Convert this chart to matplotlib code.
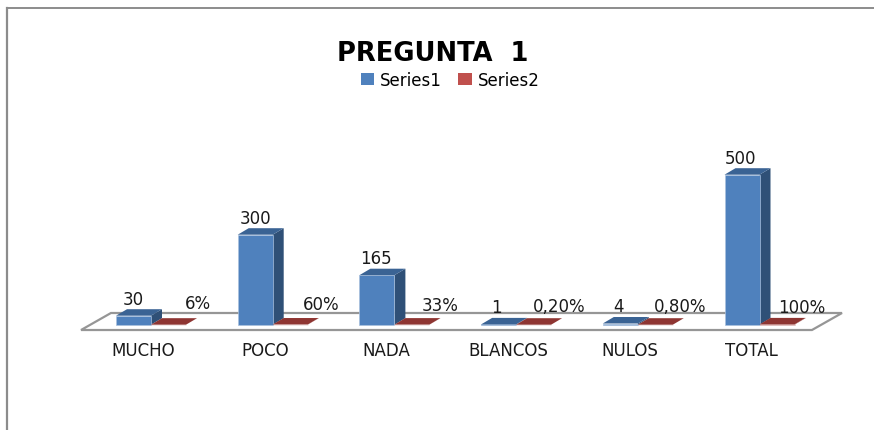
import matplotlib
matplotlib.use("Agg")
import matplotlib.pyplot as plt
from matplotlib.patches import Polygon

plt.rcParams["font.family"] = ["DejaVu Sans"]

categories = ["MUCHO", "POCO", "NADA", "BLANCOS", "NULOS", "TOTAL"]
series1 = [30, 300, 165, 1, 4, 500]
series2 = [0.06, 0.60, 0.33, 0.002, 0.008, 1.0]
series1_labels = ["30", "300", "165", "1", "4", "500"]
series2_labels = ["6%", "60%", "33%", "0,20%", "0,80%", "100%"]

# hand moved labels in the original, offsets in pixels
s1_dx = [0, 0, -1, -2, -2, -1]
s2_dx = [12, 14, 11, 9, 8, 8]
s2_dy = [22, 21, 20, 19, 19, 18]

BLUE, BLUE_SIDE, BLUE_TOP = "#4F81BD", "#2F5077", "#3A6394"
RED, RED_TOP = "#C0504D", "#8E3532"
GREY = "#969696"

fig = plt.figure(figsize=(8.74, 4.31), dpi=100)
ax = fig.add_axes([0, 0, 1, 1])

# 121.7 px per category, 0.3 px per unit, zero sits at y=325.7 px
ax.set_xlim(-151 / 121.7, 723 / 121.7)
ax.set_ylim(-105.3 / 0.3, 325.7 / 0.3)
ax.axis("off")

bar_w = 35 / 121.7
depth_x = 11 / 121.7
depth_y = 6.5 / 0.3

# floor
floor = Polygon([(-0.575, -17.7), (5.431, -17.7), (5.678, 39), (-0.329, 39)],
                closed=True, facecolor="white", edgecolor=GREY, linewidth=1.6, zorder=1)
ax.add_patch(floor)

xs = list(range(len(categories)))
x1 = [x - bar_w for x in xs]
bars1 = ax.bar(x1, series1, width=bar_w, align="edge", color=BLUE,
               edgecolor="#A9C1DE", linewidth=0.5, zorder=3, label="Series1")
bars2 = ax.bar(xs, series2, width=bar_w, align="edge", color=RED,
               edgecolor="#E6D5D5", linewidth=0.4, zorder=3, label="Series2")


def box_3d(x, v, top_col, side_col):
    top = [(x, v), (x + bar_w, v), (x + bar_w + depth_x, v + depth_y), (x + depth_x, v + depth_y)]
    side = [(x + bar_w, 0), (x + bar_w + depth_x, depth_y),
            (x + bar_w + depth_x, v + depth_y), (x + bar_w, v)]
    ax.add_patch(Polygon(side, closed=True, facecolor=side_col, edgecolor="none", zorder=2.5))
    ax.add_patch(Polygon(top, closed=True, facecolor=top_col, edgecolor="none", zorder=3.5))


for x, v in zip(x1, series1):
    box_3d(x, v, BLUE_TOP, BLUE_SIDE)
for x, v in zip(xs, series2):
    box_3d(x, v, RED_TOP, RED_TOP)

fs = 12
for i, x in enumerate(xs):
    ax.annotate(series1_labels[i], (x1[i] + bar_w / 2, series1[i]), xytext=(s1_dx[i], 17),
                textcoords="offset pixels", ha="center", va="center",
                fontsize=fs, color="#1a1a1a", zorder=5)
    ax.annotate(series2_labels[i], (x + bar_w / 2, 0), xytext=(17 + s2_dx[i], s2_dy[i]),
                textcoords="offset pixels", ha="center", va="center",
                fontsize=fs, color="#1a1a1a", zorder=5)
    # category labels sit a bit left of the group centre
    ax.annotate(categories[i], (x, 0), xytext=(-8, -25.5), textcoords="offset pixels",
                ha="center", va="center", fontsize=fs, color="#1a1a1a")

fig.text(432.5 / 874, 1 - 54 / 431, "PREGUNTA  1", ha="center", va="center",
         fontsize=18.5, fontweight="bold", color="black")

leg = ax.legend(handles=[bars1, bars2], loc="center", ncol=2, frameon=False,
                bbox_to_anchor=(450 / 874, 1 - 81 / 431), fontsize=12,
                handlelength=0.8, handleheight=0.7, handletextpad=0.35,
                columnspacing=1.0, borderpad=0)
for h, c in zip(leg.legend_handles, [BLUE, RED]):
    h.set_edgecolor("none")
    h.set_facecolor(c)

# outer frame, only left and top are visible
fig.add_artist(plt.Line2D([7 / 874, 7 / 874], [0, 1 - 9 / 431], color="#8C8C8C", linewidth=1.6))
fig.add_artist(plt.Line2D([7 / 874, 1], [1 - 9 / 431, 1 - 9 / 431], color="#8C8C8C", linewidth=1.4))

fig.savefig("out.png", dpi=100)
